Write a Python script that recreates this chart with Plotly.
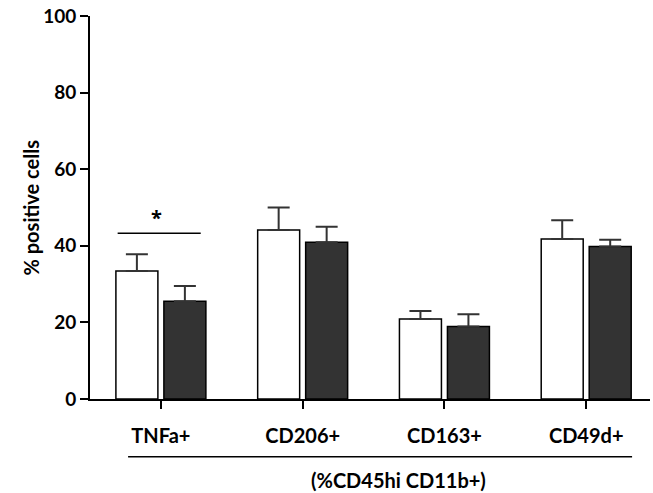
import plotly.graph_objects as go

categories = ["TNFa+", "CD206+", "CD163+", "CD49d+"]
white_values = [33.4, 44.1, 20.9, 41.8]
white_err = [4.4, 5.9, 2.1, 4.9]
dark_values = [25.5, 40.9, 18.9, 39.8]
dark_err = [4.0, 4.1, 3.2, 1.8]
y_ticks = [0, 20, 40, 60, 80, 100]
sig_y = 43.3
sig_label = "*"
x_title = "(%CD45hi CD11b+)"
y_title = "% positive cells"

FONT = "Lato"
bold = dict(family=FONT, size=20, color="black", weight="bold")
tick_bold = dict(family=FONT, size=19, color="black", weight="bold")

fig = go.Figure()
fig.add_trace(go.Bar(
    x=categories, y=white_values, name="A",
    marker=dict(color="white", line=dict(color="black", width=1.5)),
    error_y=dict(type="data", array=white_err, arrayminus=[0] * 4, symmetric=False,
                 color="#333333", thickness=2, width=11),
))
fig.add_trace(go.Bar(
    x=categories, y=dark_values, name="B",
    marker=dict(color="#333333", line=dict(color="black", width=1.5)),
    error_y=dict(type="data", array=dark_err, arrayminus=[0] * 4, symmetric=False,
                 color="#333333", thickness=2, width=11),
))

# significance line over first category
fig.add_shape(type="line", xref="x", yref="y", x0=-0.305, x1=0.281, y0=sig_y, y1=sig_y,
              line=dict(color="black", width=1.5))
fig.add_annotation(xref="x", yref="y", x=-0.03, y=sig_y, text=sig_label, showarrow=False,
                   yanchor="bottom", yshift=0, font=dict(family="Open Sans", size=20, color="black",
                                                          weight="bold"))

# bracket line under category labels
fig.add_shape(type="line", xref="paper", yref="paper", x0=0.068, x1=0.968, y0=-0.151, y1=-0.151,
              line=dict(color="black", width=1.5))
fig.add_annotation(xref="paper", yref="paper", x=0.55, y=-0.212, text=x_title, showarrow=False,
                   yanchor="middle", font=bold)

# y axis title
fig.add_annotation(xref="paper", yref="paper", x=0, y=0.5, xshift=-60, text=y_title,
                   textangle=-90, showarrow=False, xanchor="center", yanchor="middle",
                   font=bold)

fig.update_layout(
    width=653, height=493,
    margin=dict(l=90, r=3, t=16, b=94),
    paper_bgcolor="white", plot_bgcolor="white",
    barmode="group", bargap=0.323, bargroupgap=0.125,
    showlegend=False,
    xaxis=dict(
        type="category", range=[-0.5, 3.45],
        showline=True, linecolor="black", linewidth=2,
        ticks="outside", ticklen=8, tickwidth=1.5, tickcolor="black",
        tickfont=bold, ticklabelstandoff=10,
        showgrid=False, zeroline=False, fixedrange=True,
    ),
    yaxis=dict(
        range=[0, 100], tickvals=y_ticks,
        showline=True, linecolor="black", linewidth=2,
        ticks="outside", ticklen=8, tickwidth=2, tickcolor="black",
        tickfont=tick_bold, showgrid=False, zeroline=False, automargin=False,
        ticklabeloverflow="allow",
    ),
)

fig.write_html("out.html", config={"displayModeBar": False},
               post_script="document.body.style.margin='0px';")
